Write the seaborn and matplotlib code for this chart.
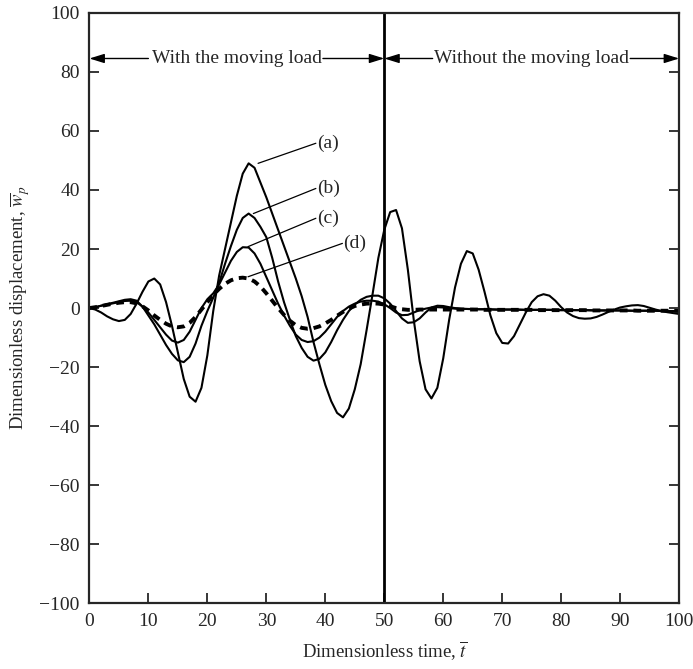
import numpy as np
import pandas as pd
import matplotlib
matplotlib.use("Agg")
import matplotlib.pyplot as plt
import seaborn as sns

# ---- data -------------------------------------------------------------------
t = list(range(0, 101))

curve_a = [0, -0.5, -1.5, -2.8, -3.8, -4.4, -4, -2, 1.5, 5.5,
           9, 10, 8, 2, -6, -15, -24, -30, -31.7, -27,
           -16, -1, 11, 20, 29, 38, 45.5, 49, 47.5, 42.5,
           37.5, 32, 26.5, 21, 15.5, 10, 4, -3, -11.5, -19,
           -26, -31.5, -35.5, -37, -34, -27.5, -19, -7.5, 4.5, 17,
           26.5, 32.5, 33.2, 27, 13, -4, -18, -27.5, -30.6, -27,
           -17, -4, 7, 15, 19.3, 18.5, 13, 5.5, -2.5, -8.5,
           -11.8, -12, -9.5, -5.5, -1.5, 2, 4, 4.7, 4.2, 2.5,
           0.3, -1.5, -2.7, -3.4, -3.6, -3.5, -3, -2.2, -1.3, -0.5,
           0.2, 0.6, 0.9, 1, 0.7, 0.1, -0.5, -1, -1.4, -1.7,
           -2]

curve_b = [0, 0.3, 0.8, 1.3, 1.8, 2.3, 2.8, 3, 2.5, 0.5,
           -2.5, -5.5, -9, -12.5, -15.5, -17.7, -18.3, -16.5, -12, -6,
           -1, 3.5, 8.5, 15, 21, 26.5, 30.5, 32, 30.5, 27.5,
           24, 17, 9, 2, -4, -9.5, -13.5, -16.5, -17.8, -17.2,
           -15, -11.5, -7.5, -4, -1, 1.2, 2.8, 3.8, 4.2, 4.2,
           3.3, 1.5, -1, -3.5, -5, -4.8, -3.5, -1.5, 0.2, 0.8,
           0.7, 0.3, 0, -0.2, -0.3, -0.3, -0.4, -0.4, -0.4, -0.5,
           -0.5, -0.5, -0.5, -0.5, -0.6, -0.6, -0.6, -0.6, -0.6, -0.6,
           -0.7, -0.7, -0.7, -0.7, -0.7, -0.7, -0.8, -0.8, -0.8, -0.8,
           -0.8, -0.8, -0.9, -0.9, -0.9, -0.9, -0.9, -1, -1, -1,
           -1]

curve_c = [0, 0.3, 0.8, 1.2, 1.6, 2, 2.4, 2.5, 2, 0.5,
           -1.5, -4, -6.5, -9, -11, -11.7, -10.8, -8, -4, 0,
           3, 5, 8, 12, 16, 19, 20.6, 20.5, 18.5, 15,
           10.5, 6, 1.5, -2.5, -6, -9, -10.8, -11.5, -11.2, -10,
           -8, -5.5, -3, -1, 0.5, 1.5, 2.2, 2.5, 2.5, 2.2,
           1.3, 0, -1.5, -2.4, -2.3, -1.5, -0.7, -0.2, 0.2, 0.3,
           0.2, 0, -0.2, -0.3, -0.3, -0.4, -0.4, -0.4, -0.5, -0.5,
           -0.5, -0.5, -0.5, -0.6, -0.6, -0.6, -0.6, -0.6, -0.6, -0.7,
           -0.7, -0.7, -0.7, -0.7, -0.7, -0.8, -0.8, -0.8, -0.8, -0.8,
           -0.8, -0.9, -0.9, -0.9, -0.9, -0.9, -0.9, -1, -1, -1,
           -1]

curve_d = [0, 0.3, 0.7, 1.1, 1.5, 1.8, 2, 2, 1.6, 0.6,
           -0.8, -2.5, -4, -5.3, -6.2, -6.5, -6.2, -5, -3, -0.5,
           2, 4.5, 6.5, 8.2, 9.4, 10.1, 10.3, 10, 9, 7.3,
           5, 2.5, 0, -2.3, -4.3, -5.8, -6.7, -7, -6.8, -6.2,
           -5.2, -4, -2.6, -1.3, -0.2, 0.7, 1.2, 1.5, 1.6, 1.5,
           1.2, 0.6, 0, -0.4, -0.6, -0.6, -0.5, -0.5, -0.5, -0.5,
           -0.5, -0.5, -0.5, -0.5, -0.5, -0.5, -0.5, -0.6, -0.6, -0.6,
           -0.6, -0.6, -0.6, -0.6, -0.6, -0.6, -0.7, -0.7, -0.7, -0.7,
           -0.7, -0.7, -0.7, -0.7, -0.7, -0.8, -0.8, -0.8, -0.8, -0.8,
           -0.8, -0.8, -0.8, -0.9, -0.9, -0.9, -0.9, -0.9, -0.9, -0.9,
           -1]

series_labels = ["(a)", "(b)", "(c)", "(d)"]
x_ticks = [0, 10, 20, 30, 40, 50, 60, 70, 80, 90, 100]
y_ticks = [-100, -80, -60, -40, -20, 0, 20, 40, 60, 80, 100]
region_labels = ["With the moving load", "Without the moving load"]

# ---- style -------------------------------------------------------------------
sns.set_style("ticks")
plt.rcParams["font.family"] = ["Liberation Serif", "DejaVu Serif"]
plt.rcParams["mathtext.fontset"] = "stix"
plt.rcParams["axes.unicode_minus"] = True

df = pd.DataFrame({
    "t": t * 4,
    "w": curve_a + curve_b + curve_c + curve_d,
    "curve": sum([[lab] * len(t) for lab in series_labels], []),
})

fig = plt.figure(figsize=(6.93, 6.69), dpi=100)
ax = fig.add_axes([0.129, 0.098, 0.851, 0.883])

solid = df[df["curve"] != "(d)"]
dashed = df[df["curve"] == "(d)"]
sns.lineplot(data=solid, x="t", y="w", units="curve", estimator=None,
             color="black", linewidth=1.5, ax=ax, sort=False)
sns.lineplot(data=dashed, x="t", y="w", estimator=None, color="black",
             linewidth=2.8, ax=ax, sort=False, dashes=False)
for ln in ax.lines:
    ln.set_solid_joinstyle("round")
    ln.set_dash_joinstyle("round")
ax.lines[-1].set_linestyle((0, (2.0, 1.5)))

ax.set_xlim(0, 100)
ax.set_ylim(-100, 100)
ax.set_xticks(x_ticks)
ax.set_yticks(y_ticks)
ax.tick_params(direction="in", length=7, width=1.3, labelsize=14,
               right=True, top=False, pad=7)
for s in ax.spines.values():
    s.set_linewidth(1.6)
ax.set_xlabel(r"Dimensionless time, $\overline{t}$", fontsize=13.5, labelpad=7)
ax.set_ylabel(r"Dimensionless displacement, $\overline{w}_p$", fontsize=13.5,
              labelpad=5)

# vertical separator at t = 50
ax.axvline(50, color="black", linewidth=2.0)

# region arrows
arr_y = 84.5
ap = dict(arrowstyle="-|>,head_length=0.9,head_width=0.28", color="black",
          lw=1.0, shrinkA=0, shrinkB=0)
ax.text(25.1, arr_y, region_labels[0], ha="center", va="center", fontsize=14)
ax.annotate("", xy=(0, arr_y), xytext=(10.0, arr_y), arrowprops=ap)
ax.annotate("", xy=(50, arr_y), xytext=(39.6, arr_y), arrowprops=ap)
ax.text(74.9, arr_y, region_labels[1], ha="center", va="center", fontsize=14)
ax.annotate("", xy=(50, arr_y), xytext=(58.2, arr_y), arrowprops=ap)
ax.annotate("", xy=(100, arr_y), xytext=(91.7, arr_y), arrowprops=ap)

# curve labels with leader lines
label_pos = [(38.4, 55.8), (38.4, 40.5), (38.4, 30.4), (42.9, 21.9)]
anchor = [(28.6, 49.0), (27.8, 32.0), (26.9, 20.8), (26.9, 10.6)]
for lab, (tx, ty), (axx, ayy) in zip(series_labels, label_pos, anchor):
    ax.plot([axx, tx], [ayy, ty], color="black", linewidth=0.9)
    ax.text(tx + 0.2, ty, lab, ha="left", va="center", fontsize=14)

fig.savefig("out.png", dpi=100)
